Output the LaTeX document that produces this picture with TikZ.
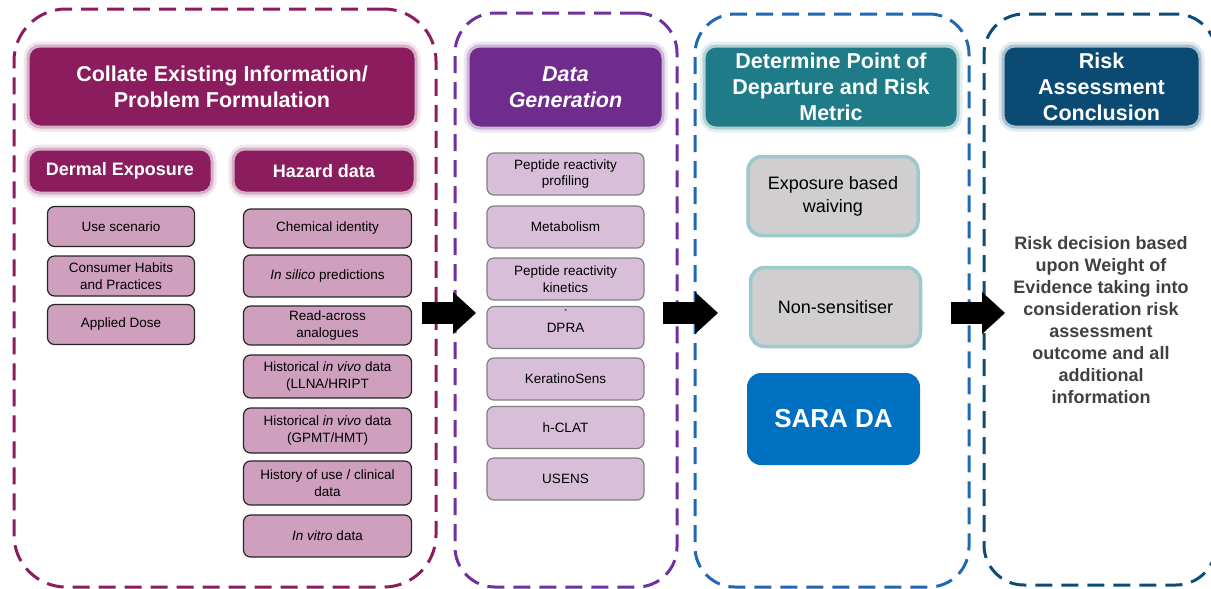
\documentclass[tikz,border=0pt]{standalone}
\usepackage{fontspec}
\setmainfont{Liberation Sans}
\usetikzlibrary{arrows.meta}

\definecolor{collatecol}{RGB}{139,29,95}
\definecolor{hazardbox}{RGB}{206,160,190}
\definecolor{gencol}{RGB}{112,44,140}
\definecolor{genline}{RGB}{112,48,160}
\definecolor{genbox}{RGB}{217,190,217}
\definecolor{podline}{RGB}{30,104,180}
\definecolor{podcol}{RGB}{31,123,135}
\definecolor{waivebox}{RGB}{208,206,206}
\definecolor{glowteal}{RGB}{156,200,208}
\definecolor{saracol}{RGB}{0,112,192}
\definecolor{concline}{RGB}{14,76,120}
\definecolor{conccol}{RGB}{11,74,114}
\definecolor{conctext}{RGB}{64,64,64}

\begin{document}
\begin{tikzpicture}[x=1pt,y=-1pt]
        \useasboundingbox (0,0) rectangle (1211,589);
        \tikzset{panel/.style = {draw=#1, line width=3pt, dash pattern=on 17pt off 9pt,
                                 rounded corners=40pt, inner sep=0pt}}
        \tikzset{header/.style = {fill=#1, draw=#1!35, line width=3pt, rounded corners=12pt,
                                  preaction={draw=#1!12, line width=9pt},
                                  text=white, align=center, inner sep=0pt,
                                  font=\bfseries\fontsize{21.5}{26}\selectfont}}
        \tikzset{subheader/.style = {header=#1, font=\bfseries\fontsize{18}{22}\selectfont}}
        \tikzset{databox/.style = {fill=hazardbox, draw=black!85, line width=1.2pt,
                                   rounded corners=7pt, align=center, inner sep=0pt,
                                   minimum width=168pt,
                                   font=\fontsize{13.5}{16.5}\selectfont}}
        \tikzset{genbox/.style = {fill=genbox, draw=black!50, line width=1.2pt,
                                  rounded corners=7pt, align=center, inner sep=0pt,
                                  minimum width=157pt, minimum height=42pt,
                                  font=\fontsize{13.5}{16.5}\selectfont}}
        \tikzset{waive/.style = {fill=waivebox, draw=glowteal, line width=3.5pt,
                                 rounded corners=14pt, align=center, inner sep=0pt,
                                 minimum width=170pt, minimum height=79pt,
                                 font=\fontsize{18}{23}\selectfont}}
        \tikzset{bigarrow/.style = {line width=22pt,
                                    -{Triangle[length=23pt,width=42pt,line width=0pt]}}}

        % panels
        \node[panel=collatecol, minimum width=422pt, minimum height=578pt, rounded corners=52pt] (p1) at (225,298) {};
        \node[panel=genline, minimum width=222pt, minimum height=574pt] (p2) at (566,300) {};
        \node[panel=podline, minimum width=274pt, minimum height=573pt] (p3) at (832,300.5) {};
        \node[panel=concline, minimum width=232pt, minimum height=571pt] (p4) at (1100,299.5) {};

        % headers
        \node[header=collatecol, minimum width=388pt, minimum height=81pt] (collate) at (222,86.5)
            {Collate Existing Information/\\Problem Formulation};
        \node[subheader=collatecol, minimum width=184pt, minimum height=44pt] (dermal) at (120,171) {Dermal Exposure};
        \node[subheader=collatecol, minimum width=182pt, minimum height=44pt] (hazard) at (324,171) {Hazard data};
        \node[header=gencol, minimum width=195pt, minimum height=82pt] (datagen) at (565.5,87)
            {\itshape Data\\\itshape Generation};
        \node[header=podcol, minimum width=254pt, minimum height=82pt] (pod) at (831,87)
            {Determine Point of\\Departure and Risk\\Metric};
        \node[header=conccol, minimum width=197pt, minimum height=81pt] (conclusion) at (1101.5,86.5)
            {Risk\\Assessment\\Conclusion};

        % exposure boxes
        \foreach \n/\y/\t in {1/226.5/{Use scenario}, 2/276/{Consumer Habits\\and Practices}, 3/324.5/{Applied Dose}}
            \node[databox, minimum width=147pt, minimum height=40pt] (exp-\n) at (121,\y) {\t};

        % hazard boxes
        \foreach \n/\y/\h/\t in {1/228.5/39/{Chemical identity},
                                 2/276/42/{\textit{In silico} predictions},
                                 3/325.5/39/{Read-across\\analogues},
                                 4/376.5/43/{Historical \textit{in vivo} data\\(LLNA/HRIPT},
                                 5/430.5/45/{Historical \textit{in vivo} data\\(GPMT/HMT)},
                                 6/483/44/{History of use / clinical\\data},
                                 7/536/42/{\textit{In vitro} data}}
            \node[databox, minimum height=\h pt] (haz-\n) at (327.5,\y) {\t};

        % data generation boxes
        \foreach \n/\y/\t in {1/174/{Peptide reactivity\\profiling}, 2/227/Metabolism,
                              3/279/{Peptide reactivity\\kinetics}, 4/327.5/DPRA,
                              5/379/KeratinoSens, 6/427.5/h-CLAT, 7/479/USENS}
            \node[genbox] (gen-\n) at (565.5,\y) {\t};
        \node[font=\fontsize{6}{6}\selectfont, inner sep=0pt] (dpra-star) at (565.7,311.5) {*};

        % point of departure
        \node[waive] (waiving) at (833,196) {Exposure based\\waiving};
        \node[waive] (nonsens) at (835.5,307) {Non-sensitiser};
        \node[fill=saracol, rounded corners=14pt, minimum width=173pt, minimum height=92pt,
              text=white, font=\bfseries\fontsize{26}{30}\selectfont] (sara) at (833.5,419) {SARA DA};

        % conclusion
        \node[align=center, text=conctext, font=\bfseries\fontsize{18}{22}\selectfont] (decision) at (1101,320.5)
            {Risk decision based\\upon Weight of\\Evidence taking into\\consideration risk\\assessment\\outcome and all\\additional\\information};

        % arrows
        \coordinate (a1s) at (422,313);
        \coordinate (a1e) at (476,313);
        \coordinate (a2s) at (663,313);
        \coordinate (a2e) at (718,313);
        \coordinate (a3s) at (951,313);
        \coordinate (a3e) at (1005,313);
        \draw[bigarrow] (a1s) -- (a1e);
        \draw[bigarrow] (a2s) -- (a2e);
        \draw[bigarrow] (a3s) -- (a3e);
    \end{tikzpicture}
\end{document}
